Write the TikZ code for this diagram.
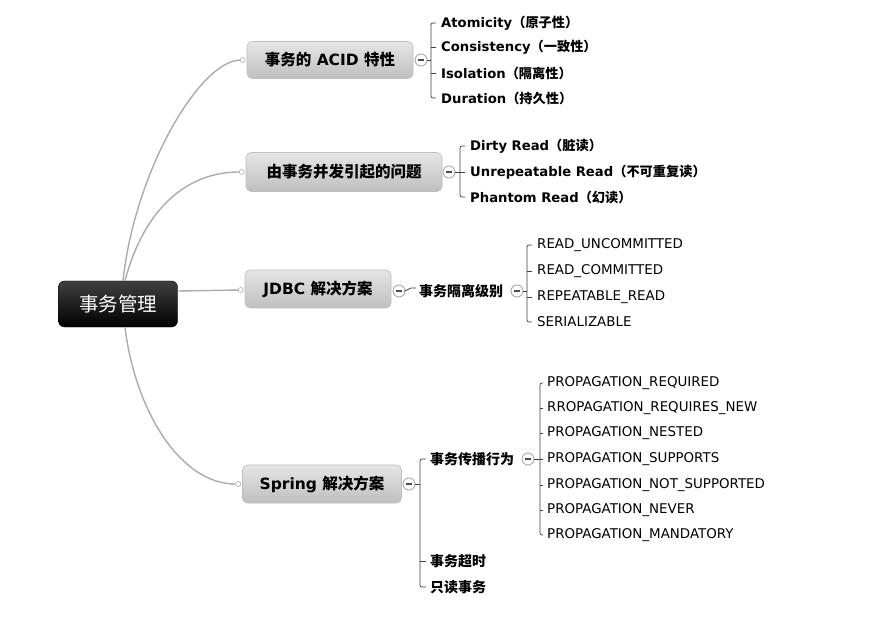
\documentclass[tikz,border=0pt]{standalone}
\usepackage{fontspec}
\setmainfont{DejaVu Sans}
\newfontfamily\cjk{Noto Sans CJK SC}
\newcommand{\zh}[1]{{\cjk #1}}
\begin{document}
\begin{tikzpicture}[x=1pt,y=-1pt,
  conn/.style={draw=gray!65, line width=1.4pt},
  br/.style={draw=black!75, line width=0.7pt},
  rootbox/.style={rounded corners=6pt, top color=black!75, bottom color=black, draw=black,
    text=white, font=\fontsize{19.5}{22}\selectfont, minimum width=119pt, minimum height=46pt},
  topic/.style={rounded corners=5pt, top color=gray!20, bottom color=gray!50, draw=gray!50,
    line width=0.6pt, font=\fontsize{15.5}{18}\selectfont\bfseries, inner sep=0pt},
  leafb/.style={anchor=west, inner sep=0pt, font=\fontsize{13.2}{15}\selectfont\bfseries},
  leaf/.style={anchor=west, inner sep=0pt, font=\fontsize{13.4}{15}\selectfont},
  subb/.style={anchor=west, inner sep=0pt, font=\fontsize{14}{16}\selectfont\bfseries},
  minus/.style={circle, draw=gray!75, fill=white, minimum size=12pt, inner sep=0pt, line width=0.8pt,
    path picture={\draw[line width=1.1pt, black!70] ([xshift=-3pt]path picture bounding box.center) -- ([xshift=3pt]path picture bounding box.center);}},
  dot/.style={circle, draw=gray!65, fill=white, minimum size=5pt, inner sep=0pt, line width=0.6pt}
]
\useasboundingbox[fill=white] (0,0) rectangle (870,620);

% root and topics
\node[rootbox] (root) at (118,304) {\zh{事务管理}};
\node[topic, minimum width=166pt, minimum height=37pt] (t1) at (330,60) {\zh{事务的} ACID \zh{特性}};
\node[topic, minimum width=196pt, minimum height=39pt] (t2) at (344,172) {\zh{由事务并发引起的问题}};
\node[topic, minimum width=146pt, minimum height=38pt] (t3) at (318,289) {JDBC \zh{解决方案}};
\node[topic, minimum width=159pt, minimum height=38pt] (t4) at (322,484) {Spring \zh{解决方案}};

\coordinate (r1) at ([xshift=5pt]root.north);
\coordinate (r2) at ([xshift=7pt]root.north);
\coordinate (r3) at ([yshift=13pt]root.east);
\coordinate (r4) at ([xshift=7pt]root.south);

\node[dot] (d1) at ([xshift=-4pt]t1.west) {};
\node[dot] (d2) at ([xshift=-4pt]t2.west) {};
\node[dot] (d3) at ([xshift=-4pt,yshift=-1pt]t3.west) {};
\node[dot] (d4) at ([xshift=-4pt]t4.west) {};

\draw[conn] (r1) .. controls (135,170) and (200,61) .. (d1);
\draw[conn] (r2) .. controls (145,205) and (190,172) .. (d2);
\draw[conn] (r3) -- (d3);
\draw[conn] (r4) .. controls (135,410) and (180,484) .. (d4);

% ACID group
\node[minus] (m1) at (421,60) {};
\coordinate (b1) at (431,60);
\node[leafb] (a1) at (441,23) {Atomicity\zh{（原子性）}};
\node[leafb] (a2) at (441,47) {Consistency\zh{（一致性）}};
\node[leafb] (a3) at (441,73) {Isolation\zh{（隔离性）}};
\node[leafb] (a4) at (441,98) {Duration\zh{（持久性）}};
\draw[br] (m1) -- (b1);
\draw[br,rounded corners=2pt] ([xshift=-5pt]a1.west) -| (b1) |- ([xshift=-5pt]a4.west);
\foreach \n in {a2,a3} \draw[br] (b1 |- \n.west) -- ([xshift=-5pt]\n.west);

% concurrency problems
\node[minus] (m2) at (449,172) {};
\coordinate (b2) at (460,172);
\node[leafb] (p1) at (470,146) {Dirty Read\zh{（脏读）}};
\node[leafb] (p2) at (470,172) {Unrepeatable Read\zh{（不可重复读）}};
\node[leafb] (p3) at (470,197) {Phantom Read\zh{（幻读）}};
\draw[br] (m2) -- (b2);
\draw[br,rounded corners=2pt] ([xshift=-5pt]p1.west) -| (b2) |- ([xshift=-5pt]p3.west);
\draw[br] (b2 |- p2.west) -- ([xshift=-5pt]p2.west);

% JDBC
\node[minus] (m3) at (399,291) {};
\node[subb] (k) at (419,291) {\zh{事务隔离级别}};
\draw[br,rounded corners=2pt] (m3) -- (407,291) -- (409,288) -- ([xshift=-3pt,yshift=3pt]k.west);
\node[minus] (m3b) at (517,291) {};
\coordinate (b3) at (527,291);
\node[leaf] (i1) at (537,245) {READ\_UNCOMMITTED};
\node[leaf] (i2) at (537,271) {READ\_COMMITTED};
\node[leaf] (i3) at (537,297) {REPEATABLE\_READ};
\node[leaf] (i4) at (537,322) {SERIALIZABLE};
\draw[br] (m3b) -- (b3);
\draw[br,rounded corners=2pt] ([xshift=-5pt]i1.west) -| (b3) |- ([xshift=-5pt]i4.west);
\foreach \n in {i2,i3} \draw[br] (b3 |- \n.west) -- ([xshift=-5pt]\n.west);

% Spring
\node[minus] (m4) at (409,484) {};
\coordinate (b4) at (420,484);
\node[subb] (s1) at (430,459) {\zh{事务传播行为}};
\node[subb] (s2) at (430,561) {\zh{事务超时}};
\node[subb] (s3) at (430,587) {\zh{只读事务}};
\draw[br] (m4) -- (b4);
\draw[br,rounded corners=2pt] ([xshift=-4pt]s1.west) -| (b4) |- ([xshift=-4pt]s3.west);
\draw[br] (b4 |- s2.west) -- ([xshift=-4pt]s2.west);

\node[minus] (m5) at (528,459) {};
\coordinate (b5) at (540,459);
\node[leaf] (g1) at (547,383) {PROPAGATION\_REQUIRED};
\node[leaf] (g2) at (547,408) {RROPAGATION\_REQUIRES\_NEW};
\node[leaf] (g3) at (547,433) {PROPAGATION\_NESTED};
\node[leaf] (g4) at (547,459) {PROPAGATION\_SUPPORTS};
\node[leaf] (g5) at (547,485) {PROPAGATION\_NOT\_SUPPORTED};
\node[leaf] (g6) at (547,510) {PROPAGATION\_NEVER};
\node[leaf] (g7) at (547,535) {PROPAGATION\_MANDATORY};
\draw[br] (m5) -- ([xshift=-4pt]g4.west);
\draw[br,rounded corners=2pt] ([xshift=-4pt]g1.west) -| (b5) |- ([xshift=-4pt]g7.west);
\foreach \n in {g2,g3,g5,g6} \draw[br] (b5 |- \n.west) -- ([xshift=-4pt]\n.west);
\end{tikzpicture}
\end{document}
